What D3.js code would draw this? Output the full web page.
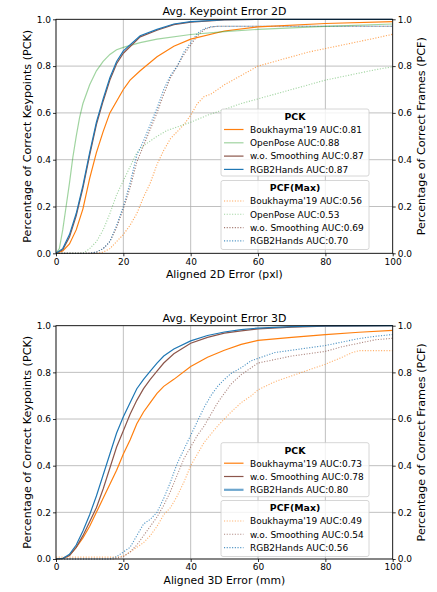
<!DOCTYPE html>
<html><head><meta charset="utf-8">
<script src="https://cdn.jsdelivr.net/npm/d3@7"></script>
<style>
html,body{margin:0;padding:0;background:#fff;}
svg{display:block;font-family:"DejaVu Sans",sans-serif;}
</style></head>
<body><svg id="c" width="437" height="592"></svg>
<script>
// ---------- DATA ----------
const xTicks = [0, 20, 40, 60, 80, 100];
const yTicks = [0, 0.2, 0.4, 0.6, 0.8, 1.0];

// 2D PCK (x: error px, y: fraction)
const pck2d_boukhayma = [[0,0],[2,0.01],[4,0.04],[6,0.1],[8,0.19],[10,0.32],[12,0.43],[14,0.52],[16,0.6],[18,0.65],[20,0.7],[22,0.74],[25,0.78],[30,0.84],[35,0.885],[40,0.915],[50,0.95],[60,0.968],[80,0.982],[100,0.99]];
const pck2d_openpose = [[0,0],[1,0.02],[2,0.1],[3,0.2],[4,0.3],[5,0.41],[6,0.5],[7,0.58],[8,0.64],[10,0.72],[12,0.78],[14,0.82],[16,0.85],[18,0.87],[20,0.88],[25,0.9],[30,0.915],[40,0.935],[50,0.947],[60,0.957],[80,0.97],[100,0.98]];
const pck2d_wosmooth = [[0,0],[2,0.015],[4,0.07],[6,0.16],[8,0.28],[10,0.42],[12,0.55],[14,0.65],[16,0.74],[18,0.81],[20,0.855],[25,0.925],[30,0.953],[35,0.977],[40,0.988],[50,0.997],[60,1],[100,1]];
const pck2d_rgb2hands = [[0,0],[2,0.02],[4,0.08],[6,0.17],[8,0.29],[10,0.43],[12,0.56],[14,0.66],[16,0.75],[18,0.82],[20,0.865],[25,0.93],[30,0.957],[35,0.98],[40,0.99],[50,0.998],[60,1],[100,1]];

// 2D PCF(Max)
const pcf2d_boukhayma = [[0,0],[12,0],[14,0.005],[16,0.02],[18,0.05],[20,0.08],[22,0.12],[24,0.17],[26,0.24],[28,0.3],[30,0.38],[32,0.44],[34,0.49],[36,0.52],[38,0.55],[40,0.59],[42,0.64],[44,0.67],[46,0.68],[48,0.7],[50,0.72],[55,0.76],[60,0.8],[65,0.82],[70,0.84],[75,0.86],[80,0.875],[85,0.89],[90,0.905],[95,0.92],[100,0.936]];
const pcf2d_openpose = [[0,0],[8,0],[10,0.02],[12,0.05],[14,0.1],[16,0.17],[18,0.25],[20,0.31],[22,0.37],[24,0.43],[26,0.46],[28,0.48],[30,0.5],[33,0.525],[36,0.54],[40,0.56],[45,0.59],[50,0.615],[55,0.64],[60,0.66],[65,0.68],[70,0.7],[75,0.72],[80,0.74],[85,0.755],[90,0.77],[95,0.785],[100,0.797]];
const pcf2d_wosmooth = [[0,0],[10,0],[12,0.005],[14,0.02],[16,0.05],[18,0.11],[20,0.19],[22,0.28],[24,0.39],[26,0.46],[28,0.53],[30,0.6],[32,0.68],[34,0.75],[36,0.8],[38,0.85],[40,0.89],[42,0.93],[44,0.955],[46,0.967],[48,0.97],[100,0.97]];
const pcf2d_rgb2hands = [[0,0],[10,0],[12,0.005],[14,0.02],[16,0.05],[18,0.12],[20,0.2],[22,0.3],[24,0.42],[26,0.48],[28,0.55],[30,0.62],[32,0.7],[34,0.76],[36,0.8],[38,0.86],[40,0.9],[42,0.94],[44,0.96],[46,0.968],[48,0.97],[100,0.97]];

// 3D PCK (x: error mm)
const pck3d_boukhayma = [[0,0],[2,0.002],[4,0.015],[6,0.05],[8,0.09],[10,0.14],[12,0.2],[14,0.26],[16,0.32],[18,0.38],[20,0.45],[22,0.51],[24,0.58],[26,0.63],[28,0.67],[30,0.71],[32,0.74],[35,0.77],[40,0.825],[45,0.865],[50,0.895],[55,0.92],[60,0.937],[70,0.95],[80,0.962],[90,0.972],[100,0.98]];
const pck3d_wosmooth = [[0,0],[2,0.002],[4,0.015],[6,0.05],[8,0.1],[10,0.16],[12,0.22],[14,0.3],[16,0.39],[18,0.48],[20,0.55],[22,0.62],[24,0.68],[26,0.73],[28,0.77],[30,0.805],[32,0.84],[35,0.88],[40,0.925],[45,0.95],[50,0.968],[55,0.978],[60,0.986],[70,0.994],[80,0.998],[100,1]];
const pck3d_rgb2hands = [[0,0],[2,0.002],[4,0.02],[6,0.06],[8,0.12],[10,0.19],[12,0.27],[14,0.36],[16,0.45],[18,0.54],[20,0.61],[22,0.67],[24,0.73],[26,0.77],[28,0.805],[30,0.84],[32,0.87],[35,0.9],[40,0.935],[45,0.958],[50,0.973],[55,0.983],[60,0.99],[70,0.996],[80,0.999],[100,1]];

// 3D PCF(Max)
const pcf3d_boukhayma = [[0,0.008],[18,0.008],[20,0.012],[22,0.03],[24,0.05],[26,0.07],[28,0.1],[30,0.14],[32,0.19],[34,0.22],[36,0.27],[38,0.33],[40,0.4],[42,0.45],[44,0.5],[46,0.535],[48,0.57],[50,0.6],[52,0.63],[55,0.67],[58,0.7],[60,0.725],[65,0.76],[70,0.785],[75,0.81],[80,0.835],[85,0.865],[88,0.885],[90,0.893],[100,0.893]];
const pcf3d_wosmooth = [[0,0],[17,0],[20,0.01],[22,0.03],[24,0.06],[26,0.1],[28,0.14],[30,0.18],[32,0.23],[34,0.29],[36,0.36],[38,0.43],[40,0.48],[42,0.53],[44,0.57],[46,0.62],[48,0.67],[50,0.71],[52,0.75],[55,0.79],[58,0.82],[60,0.84],[65,0.855],[70,0.87],[75,0.88],[80,0.89],[85,0.91],[90,0.925],[95,0.94],[100,0.946]];
const pcf3d_rgb2hands = [[0,0],[16,0],[18,0.01],[20,0.03],[22,0.05],[24,0.1],[26,0.15],[28,0.17],[30,0.2],[32,0.26],[34,0.33],[36,0.41],[38,0.47],[40,0.53],[42,0.59],[44,0.65],[46,0.7],[48,0.74],[50,0.77],[52,0.795],[55,0.82],[58,0.85],[60,0.86],[65,0.885],[70,0.895],[75,0.905],[80,0.915],[85,0.93],[90,0.945],[95,0.955],[100,0.962]];

const names2d = ["Boukhayma'19", "OpenPose", "w.o. Smoothing", "RGB2Hands"];
const pckAuc2d = ["0.81", "0.88", "0.87", "0.87"];
const pcfAuc2d = ["0.56", "0.53", "0.69", "0.70"];
const names3d = ["Boukhayma'19", "w.o. Smoothing", "RGB2Hands"];
const pckAuc3d = ["0.73", "0.78", "0.80"];
const pcfAuc3d = ["0.49", "0.54", "0.56"];

// ---------- STYLE ----------
const C = {orange:"#ff7f0e", green:"#2ca02c", brown:"#8c564b", blue:"#1f77b4"};
const svg = d3.select("#c");

// measure-based font sizing (target widths taken from reference)
function fitSize(text, target, weight){
  const t = svg.append("text").attr("font-size", 10).attr("font-weight", weight||"normal").text(text);
  const w = t.node().getComputedTextLength();
  t.remove();
  return 10 * target / w;
}
const FS_TICK = fitSize("0.8", 14.3);
const FS_LEG = fitSize("Boukhayma'19 AUC:0.81", 112);
const FS_LEGT = fitSize("PCF(Max)", 50.5, "bold");
const FS_TITLE = fitSize("Avg. Keypoint Error 2D", 124);
const FS_XL = fitSize("Aligned 2D Error (pxl)", 117);
const FS_YL = fitSize("Percentage of Correct Keypoints (PCK)", 213);

function panel(cfg){
  const x = d3.scaleLinear().domain([0,100]).range([56, 392.7]);
  const y = d3.scaleLinear().domain([0,1]).range([cfg.y1, cfg.y0]);
  const g = svg.append("g");
  // grid
  g.append("g").selectAll("line").data(xTicks).join("line")
    .attr("x1", d=>x(d)).attr("x2", d=>x(d)).attr("y1", y(0)).attr("y2", y(1))
    .attr("stroke", "#b0b0b0").attr("stroke-width", 0.8);
  g.append("g").selectAll("line").data(yTicks).join("line")
    .attr("x1", x(0)).attr("x2", x(100)).attr("y1", d=>y(d)).attr("y2", d=>y(d))
    .attr("stroke", "#b0b0b0").attr("stroke-width", 0.8);

  const line = d3.line().x(d=>x(d[0])).y(d=>y(d[1]));
  const clipId = "clip"+cfg.id;
  svg.append("clipPath").attr("id", clipId).append("rect")
    .attr("x", x(0)).attr("y", y(1)-1).attr("width", x(100)-x(0)).attr("height", y(0)-y(1)+2);
  const lg = g.append("g").attr("clip-path", `url(#${clipId})`);
  cfg.pcf.forEach(s=>{
    lg.append("path").attr("d", line(s.data)).attr("fill","none")
      .attr("stroke", s.color).attr("stroke-width", 1.1).attr("stroke-opacity", s.op)
      .attr("stroke-dasharray", "1.1,1.6");
  });
  cfg.pck.forEach(s=>{
    lg.append("path").attr("d", line(s.data)).attr("fill","none")
      .attr("stroke", s.color).attr("stroke-width", 1.2).attr("stroke-opacity", s.op);
  });

  // axes
  const fmt = d3.format(".1f");
  const ax = g.append("g").attr("transform", `translate(0,${y(0)})`)
    .call(d3.axisBottom(x).tickValues(xTicks).tickSize(3).tickPadding(2).tickFormat(d3.format("d")));
  const ayl = g.append("g").attr("transform", `translate(${x(0)},0)`)
    .call(d3.axisLeft(y).tickValues(yTicks).tickSize(3).tickPadding(2).tickFormat(fmt));
  const ayr = g.append("g").attr("transform", `translate(${x(100)},0)`)
    .call(d3.axisRight(y).tickValues(yTicks).tickSize(3).tickPadding(2).tickFormat(fmt));
  [ax, ayl, ayr].forEach(a=>{
    a.select(".domain").remove();
    a.selectAll("text").attr("font-size", FS_TICK).attr("font-family", "DejaVu Sans").attr("fill","#000");
    a.selectAll("line").attr("stroke","#000").attr("stroke-width",0.8);
  });
  // spines
  g.append("rect").attr("x", x(0)).attr("y", y(1)).attr("width", x(100)-x(0)).attr("height", y(0)-y(1))
    .attr("fill","none").attr("stroke","#000").attr("stroke-width",0.8);

  // labels
  g.append("text").attr("x", (x(0)+x(100))/2).attr("y", y(1)-4).attr("text-anchor","middle")
    .attr("font-size", FS_TITLE).text(cfg.title);
  g.append("text").attr("x", (x(0)+x(100))/2).attr("y", y(0)+25).attr("text-anchor","middle")
    .attr("font-size", FS_XL).text(cfg.xlabel);
  const ym = (y(0)+y(1))/2;
  g.append("text").attr("transform", `translate(30.5,${ym}) rotate(-90)`).attr("text-anchor","middle")
    .attr("font-size", FS_YL).text("Percentage of Correct Keypoints (PCK)");
  g.append("text").attr("transform", `translate(425,${ym}) rotate(-90)`).attr("text-anchor","middle")
    .attr("font-size", FS_YL).text("Percentage of Correct Frames (PCF)");

  // legends
  cfg.legends.forEach(L=>{
    const lgd = g.append("g");
    lgd.append("rect").attr("x", 221).attr("y", L.top).attr("width", 148).attr("height", L.h)
      .attr("rx", 2).attr("fill","#fff").attr("fill-opacity",0.8).attr("stroke","#cccccc").attr("stroke-width",0.8);
    lgd.append("text").attr("x", 295).attr("y", L.top+10.8).attr("text-anchor","middle")
      .attr("font-size", FS_LEGT).attr("font-weight","bold").text(L.title);
    L.items.forEach((it,i)=>{
      const yy = L.top + 20.5 + i*13.3;
      lgd.append("line").attr("x1", 224).attr("x2", 243.5).attr("y1", yy).attr("y2", yy)
        .attr("stroke", it.color).attr("stroke-width", it.w).attr("stroke-opacity", it.op)
        .attr("stroke-dasharray", it.dash || null);
      lgd.append("text").attr("x", 250).attr("y", yy+3.3).attr("font-size", FS_LEG).text(it.label);
    });
  });
}

panel({
  id:"a", y0:19.3, y1:253.3, title:"Avg. Keypoint Error 2D", xlabel:"Aligned 2D Error (pxl)",
  pck:[{data:pck2d_boukhayma,color:C.orange,op:1},{data:pck2d_openpose,color:C.green,op:0.45},
       {data:pck2d_wosmooth,color:C.brown,op:1},{data:pck2d_rgb2hands,color:C.blue,op:1}],
  pcf:[{data:pcf2d_boukhayma,color:C.orange,op:0.7},{data:pcf2d_openpose,color:C.green,op:0.45},
       {data:pcf2d_wosmooth,color:C.brown,op:0.8},{data:pcf2d_rgb2hands,color:C.blue,op:0.8}],
  legends:[
    {title:"PCK", top:109, h:67, items:names2d.map((n,i)=>({label:`${n} AUC:${pckAuc2d[i]}`,
      color:[C.orange,C.green,C.brown,C.blue][i], w:1.2, op:[1,0.45,1,1][i]}))},
    {title:"PCF(Max)", top:180.5, h:69, items:names2d.map((n,i)=>({label:`${n} AUC:${pcfAuc2d[i]}`,
      color:[C.orange,C.green,C.brown,C.blue][i], w:1.1, op:[0.7,0.45,0.8,0.8][i], dash:"1.1,1.6"}))}
  ]
});
panel({
  id:"b", y0:325.7, y1:559, title:"Avg. Keypoint Error 3D", xlabel:"Aligned 3D Error (mm)",
  pck:[{data:pck3d_boukhayma,color:C.orange,op:1},{data:pck3d_wosmooth,color:C.brown,op:1},
       {data:pck3d_rgb2hands,color:C.blue,op:1}],
  pcf:[{data:pcf3d_boukhayma,color:C.orange,op:0.6},{data:pcf3d_wosmooth,color:C.brown,op:0.7},
       {data:pcf3d_rgb2hands,color:C.blue,op:0.8}],
  legends:[
    {title:"PCK", top:442.7, h:54, items:names3d.map((n,i)=>({label:`${n} AUC:${pckAuc3d[i]}`,
      color:[C.orange,C.brown,C.blue][i], w:[1.2,1.2,2.2][i], op:[1,1,0.65][i]}))},
    {title:"PCF(Max)", top:500.5, h:56, items:names3d.map((n,i)=>({label:`${n} AUC:${pcfAuc3d[i]}`,
      color:[C.orange,C.brown,C.blue][i], w:1.1, op:[0.6,0.7,0.8][i], dash:"1.1,1.6"}))}
  ]
});
</script></body></html>
